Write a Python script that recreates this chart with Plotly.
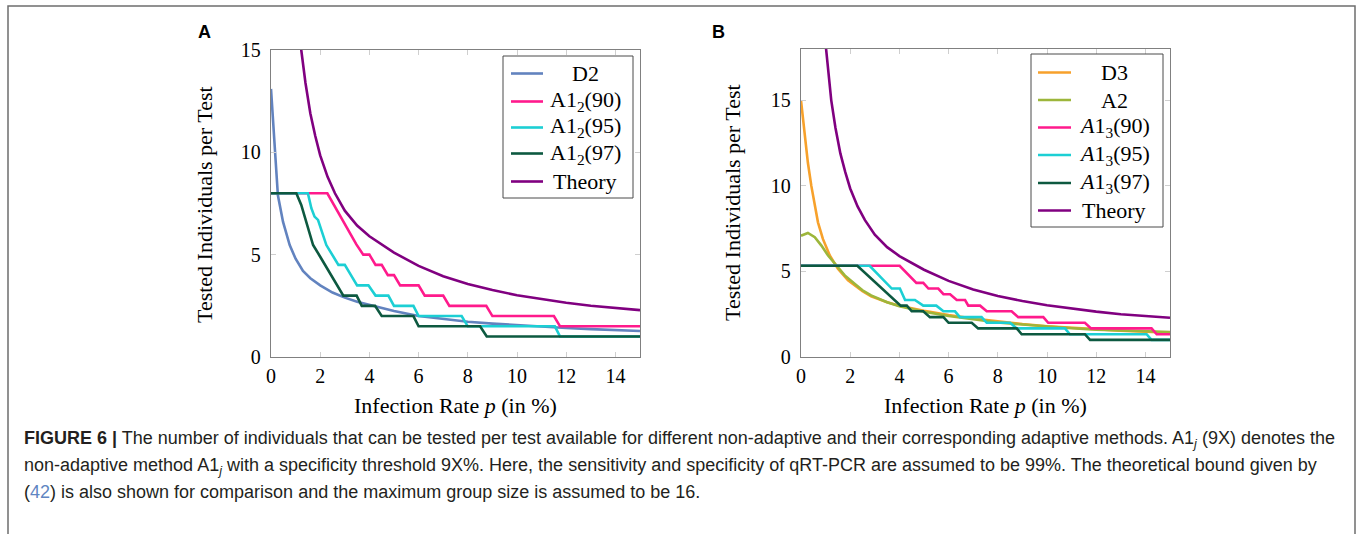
import plotly.graph_objects as go

W, H = 1357, 534

# ---------------- Data ----------------
# Theoretical bound (same curve in both panels)
p_theory = [0.95, 1.1, 1.23, 1.4, 1.6, 1.8, 2.0, 2.3, 2.6, 3.0, 3.5, 4.0, 4.5, 5.0, 6.0, 7.0,
            8.0, 9.0, 10.0, 11.0, 12.0, 13.0, 14.0, 15.0]
v_theory = [19.0, 16.6, 15.0, 13.4, 11.9, 10.8, 9.85, 8.8, 8.0, 7.15, 6.42, 5.9, 5.48, 5.1,
            4.45, 3.95, 3.57, 3.27, 3.02, 2.82, 2.65, 2.5, 2.38, 2.29]

# Panel A
p_d2 = [0.0, 0.15, 0.28, 0.49, 0.76, 1.0, 1.3, 1.6, 2.0, 2.5, 3.0, 3.5, 4.0, 5.0, 6.0, 7.0,
        8.0, 9.0, 10.0, 11.0, 12.0, 13.0, 14.0, 15.0]
v_d2 = [13.1, 10.0, 7.9, 6.6, 5.47, 4.8, 4.2, 3.85, 3.5, 3.15, 2.9, 2.7, 2.55, 2.25, 2.0, 1.85,
        1.72, 1.63, 1.55, 1.48, 1.42, 1.36, 1.31, 1.27]

p_a12_90 = [0, 2.29, 3.47, 3.75, 4.0, 4.25, 4.5, 4.75, 5.0, 5.25, 6.0, 6.25, 7.0, 7.25, 8.75,
            9.0, 11.5, 11.75, 15]
v_a12_90 = [8, 8, 5.5, 5, 5, 4.5, 4.5, 4, 4, 3.5, 3.5, 3, 3, 2.5, 2.5, 2, 2, 1.5, 1.5]

p_a12_95 = [0, 1.5, 1.64, 1.77, 1.91, 2.25, 2.74, 3.0, 3.25, 3.5, 3.96, 4.25, 4.77, 5.0, 5.79,
            6.0, 7.75, 8.0, 11.54, 11.75, 15]
v_a12_95 = [8, 8, 7.27, 6.86, 6.7, 5.47, 4.5, 4.5, 4.0, 3.5, 3.5, 3.0, 3.0, 2.5, 2.5, 2.0, 2.0,
            1.5, 1.5, 1.0, 1.0]

p_a12_97 = [0, 1.03, 1.23, 1.71, 2.0, 2.5, 2.94, 3.48, 3.69, 4.23, 4.5, 5.79, 6.0, 8.5, 8.77, 15]
v_a12_97 = [8, 8, 7.43, 5.47, 4.9, 3.85, 3.0, 3.0, 2.5, 2.5, 2.0, 2.0, 1.5, 1.5, 1.0, 1.0]

# Panel B
p_d3 = [0, 0.15, 0.28, 0.42, 0.56, 0.69, 0.89, 1.17, 1.5, 1.91, 2.5, 2.85, 3.5, 4.0, 5.0, 6.0,
        7.0, 8.0, 9.0, 10.0, 11.0, 12.0, 13.0, 14.0, 15.0]
v_d3 = [15.0, 13.1, 11.35, 10.0, 8.84, 7.87, 6.9, 5.93, 5.16, 4.48, 3.85, 3.55, 3.2, 3.0, 2.7,
        2.45, 2.25, 2.07, 1.92, 1.8, 1.7, 1.61, 1.54, 1.48, 1.42]

p_a2 = [0, 0.15, 0.28, 0.56, 0.83, 1.1, 1.44, 1.78, 2.18, 2.5, 2.85, 3.5, 4.0, 5.0, 6.0, 7.0,
        8.0, 9.0, 10.0, 11.0, 12.0, 13.0, 14.0, 15.0]
v_a2 = [7.09, 7.2, 7.25, 7.0, 6.51, 5.93, 5.35, 4.77, 4.28, 3.9, 3.6, 3.2, 2.97, 2.65, 2.4,
        2.2, 2.02, 1.9, 1.78, 1.68, 1.6, 1.54, 1.5, 1.46]

p_a13_90 = [0, 4.01, 4.69, 4.97, 5.18, 5.58, 5.79, 6.06, 6.33, 6.67, 6.8, 7.28, 7.55, 8.56,
            8.83, 9.85, 10.05, 11.54, 11.79, 14.25, 14.46, 15]
v_a13_90 = [5.33, 5.33, 4.33, 4.33, 4.0, 4.0, 3.67, 3.67, 3.33, 3.33, 3.0, 3.0, 2.67, 2.67,
            2.33, 2.33, 2.0, 2.0, 1.67, 1.67, 1.33, 1.33]

p_a13_95 = [0, 2.79, 3.69, 4.02, 4.23, 4.63, 4.97, 5.5, 5.79, 6.26, 6.46, 7.34, 7.55, 8.5,
            8.77, 10.73, 10.93, 14.05, 14.25, 15]
v_a13_95 = [5.33, 5.33, 4.0, 4.0, 3.33, 3.33, 3.0, 3.0, 2.67, 2.67, 2.33, 2.33, 2.0, 2.0,
            1.67, 1.67, 1.33, 1.33, 1.0, 1.0]

p_a13_97 = [0, 2.29, 4.05, 4.3, 4.5, 4.97, 5.24, 5.79, 6.0, 6.94, 7.2, 8.77, 8.97, 11.54,
            11.75, 15]
v_a13_97 = [5.33, 5.33, 3.0, 3.0, 2.67, 2.67, 2.33, 2.33, 2.0, 2.0, 1.67, 1.67, 1.33, 1.33,
            1.0, 1.0]

x_ticks = [0, 2, 4, 6, 8, 10, 12, 14]
y_ticks = [0, 5, 10, 15]

names_a = ["D2", "A1<sub>2</sub>(90)", "A1<sub>2</sub>(95)", "A1<sub>2</sub>(97)", "Theory"]
names_b = ["D3", "A2", "<i>A</i>1<sub>3</sub>(90)", "<i>A</i>1<sub>3</sub>(95)",
           "<i>A</i>1<sub>3</sub>(97)", "Theory"]

# ---------------- Styles ----------------
C_BLUE = "#6283bf"
C_PINK = "#ff1a8c"
C_CYAN = "#1ccfd4"
C_DGREEN = "#0d5940"
C_PURPLE = "#800080"
C_ORANGE = "#f7a12b"
C_OLIVE = "#9db63b"
LW = 2.6
SERIF = "Liberation Serif"
SANS = "Liberation Sans"

fig = go.Figure()

def add(x, y, name, color, xa, ya):
    fig.add_trace(go.Scatter(x=x, y=y, mode="lines", name=name, showlegend=False,
                             line=dict(color=color, width=LW),
                             xaxis=xa, yaxis=ya, hoverinfo="skip"))

colors_a = [C_BLUE, C_PINK, C_CYAN, C_DGREEN, C_PURPLE]
series_a = [(p_d2, v_d2), (p_a12_90, v_a12_90), (p_a12_95, v_a12_95),
            (p_a12_97, v_a12_97), (p_theory, v_theory)]
for (x, y), nm, c in zip(series_a, names_a, colors_a):
    add(x, y, nm, c, "x", "y")

colors_b = [C_ORANGE, C_OLIVE, C_PINK, C_CYAN, C_DGREEN, C_PURPLE]
series_b = [(p_d3, v_d3), (p_a2, v_a2), (p_a13_90, v_a13_90), (p_a13_95, v_a13_95),
            (p_a13_97, v_a13_97), (p_theory, v_theory)]
for (x, y), nm, c in zip(series_b, names_b, colors_b):
    add(x, y, nm, c, "x2", "y2")

def px(x):
    return x / W

def py(y):
    return 1 - y / H

axis_common = dict(showline=True, linecolor="#808080", linewidth=1.3, mirror="ticks",
                   ticks="inside", ticklen=5, tickwidth=1, tickcolor="#cfcfcf",
                   showgrid=False, zeroline=False, automargin=False,
                   tickfont=dict(family=SERIF, size=20, color="black"))

fig.update_layout(
    width=W, height=H,
    margin=dict(l=0, r=0, t=0, b=0, pad=0, autoexpand=False),
    paper_bgcolor="white", plot_bgcolor="white",
    showlegend=False,
    xaxis=dict(domain=[px(271), px(640)], range=[0, 15], tickvals=x_ticks,
               ticklabelstandoff=1, anchor="y", **axis_common),
    yaxis=dict(domain=[py(357), py(50)], range=[0, 15], tickvals=y_ticks,
               ticklabelstandoff=5, anchor="x", **axis_common),
    xaxis2=dict(domain=[px(801), px(1170)], range=[0, 15], tickvals=x_ticks,
                ticklabelstandoff=1, anchor="y2", **axis_common),
    yaxis2=dict(domain=[py(357), py(49)], range=[0, 18], tickvals=y_ticks,
                ticklabelstandoff=5, anchor="x2", **axis_common),
)

shapes = []
ann = []

# Outer frame
shapes.append(dict(type="rect", xref="paper", yref="paper",
                   x0=px(8), x1=px(1355), y0=py(560), y1=py(6),
                   line=dict(color="#6e6e6e", width=1.5), fillcolor="rgba(0,0,0,0)",
                   layer="below"))

# Legends (box, line samples, centred labels)
def legend(box, line_x, text_cx, rows, names, colors):
    x0, x1, y0, y1 = box
    shapes.append(dict(type="rect", xref="paper", yref="paper",
                       x0=px(x0), x1=px(x1), y0=py(y1), y1=py(y0),
                       line=dict(color="#4a4a4a", width=1), fillcolor="white",
                       layer="above"))
    for yy, nm, c in zip(rows, names, colors):
        shapes.append(dict(type="line", xref="paper", yref="paper",
                           x0=px(line_x[0]), x1=px(line_x[1]), y0=py(yy), y1=py(yy),
                           line=dict(color=c, width=LW), layer="above"))
        ann.append(dict(text=nm, x=px(text_cx), y=py(yy), xref="paper", yref="paper",
                        showarrow=False, xanchor="center", yanchor="middle",
                        font=dict(family=SERIF, size=22, color="black")))

legend((503, 633, 56, 198), (511, 543), 585, [73.5, 101.5, 127.5, 153.5, 181.5],
       names_a, colors_a)
legend((1031, 1163, 54, 227), (1038, 1071), 1114, [72.5, 100, 127.5, 155, 183, 210.5],
       names_b, colors_b)

# Panel letters
ann.append(dict(text="<b>A</b>", x=px(204), y=py(32), xref="paper", yref="paper",
                showarrow=False, font=dict(family=SANS, size=18, color="black"),
                xanchor="center", yanchor="middle"))
ann.append(dict(text="<b>B</b>", x=px(718), y=py(32), xref="paper", yref="paper",
                showarrow=False, font=dict(family=SANS, size=18, color="black"),
                xanchor="center", yanchor="middle"))
# Axis titles
for xc in (455, 985.5):
    ann.append(dict(text="Infection Rate <i>p</i> (in %)", x=px(xc), y=py(405),
                    xref="paper", yref="paper", showarrow=False,
                    font=dict(family=SERIF, size=22, color="black"),
                    xanchor="center", yanchor="middle"))
for xc, yc in ((205, 205), (733, 203)):
    ann.append(dict(text="Tested Individuals per Test", x=px(xc), y=py(yc),
                    xref="paper", yref="paper", showarrow=False, textangle=-90,
                    font=dict(family=SERIF, size=22, color="black"),
                    xanchor="center", yanchor="middle"))

# Caption
cap_font = dict(family=SANS, size=18, color="#231f20")
cap_lines = [
    (439, "<b>FIGURE 6 |</b> The number of individuals that can be tested per test available for "
          "different non-adaptive and their corresponding adaptive methods. A1<sub><i>j</i></sub> "
          "(9X) denotes the"),
    (466, "non-adaptive method A1<sub><i>j</i></sub> with a specificity threshold 9X%. Here, the "
          "sensitivity and specificity of qRT-PCR are assumed to be 99%. The theoretical bound "
          "given by"),
    (492, "(<span style='color:#5f86c2'>42</span>) is also shown for comparison and the maximum "
          "group size is assumed to be 16."),
]
for yc, txt in cap_lines:
    ann.append(dict(text=txt, x=px(22), y=py(yc), xref="paper", yref="paper",
                    showarrow=False, font=cap_font, xanchor="left", yanchor="middle",
                    align="left"))

fig.update_layout(shapes=shapes, annotations=ann)

fig.write_html("out.html", config={"displayModeBar": False},
               post_script="document.body.style.margin='0px';document.body.style.padding='0px';")
